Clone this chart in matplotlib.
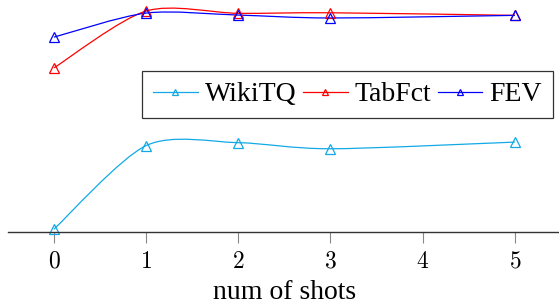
import numpy as np
import matplotlib
matplotlib.use('Agg')
import matplotlib.pyplot as plt
from matplotlib.path import Path
from matplotlib.patches import PathPatch
from matplotlib.lines import Line2D

shots = [0, 1, 2, 3, 5]
wikitq = [1.0, 29.8, 30.8, 28.7, 31.0]
tabfct = [56.6, 76.2, 75.4, 75.6, 74.7]
fev = [67.2, 75.5, 74.8, 73.8, 74.7]
tick_vals = [0, 1, 2, 3, 4, 5]

plt.rcParams['mathtext.fontset'] = 'cm'
serif = 'Liberation Serif'


def smooth_path(x, y, t=0.14):
    # tikz-like smooth curve: bezier segments through every point
    p = np.column_stack([x, y]).astype(float)
    n = len(p)
    verts = [p[0]]
    codes = [Path.MOVETO]
    for i in range(n - 1):
        prev = p[i - 1] if i > 0 else p[i]
        nxt = p[i + 2] if i + 2 < n else p[i + 1]
        c1 = p[i] + (p[i + 1] - prev) * t
        c2 = p[i + 1] - (nxt - p[i]) * t
        verts += [c1, c2, p[i + 1]]
        codes += [Path.CURVE4] * 3
    return Path(verts, codes)


fig = plt.figure(figsize=(5.59, 3.04), dpi=100)
ax = fig.add_axes([7.9 / 559, 72 / 304, 553 / 559, 232 / 304])
ax.set_xlim(-0.5, 5.5)
ax.set_ylim(0, 80)

series = [('WikiTQ', wikitq, '#12a9e6'), ('TabFct', tabfct, 'red'), ('FEV', fev, 'blue')]
handles = []
for name, vals, col in series:
    ax.add_patch(PathPatch(smooth_path(shots, vals), fc='none', ec=col, lw=0.9, clip_on=False))
    ax.plot(shots, vals, ls='none', marker='^', ms=7, mfc='none', mec=col, mew=0.9, clip_on=False)
    handles.append(Line2D([], [], color=col, lw=0.9, marker='^', ms=5, mfc='none', mec=col, mew=0.9))

for s in ['top', 'right', 'left']:
    ax.spines[s].set_visible(False)
ax.spines['bottom'].set_color('#333333')
ax.spines['bottom'].set_linewidth(1.0)
ax.set_yticks([])
ax.set_xticks(tick_vals)
ax.set_xticklabels(['$%d$' % v for v in tick_vals], fontsize=17)
ax.tick_params(axis='x', direction='out', length=8, width=0.8, color='#888888', pad=4)
ax.set_xlabel('num of shots', family=serif, fontsize=20, labelpad=5)

leg = fig.legend(handles, [s[0] for s in series], loc='upper left',
                 bbox_to_anchor=(142 / 559, 1 - 70.7 / 304), ncol=3,
                 prop={'family': serif, 'size': 20}, frameon=True, fancybox=False,
                 handlelength=1.6, handletextpad=0.25, columnspacing=0.25,
                 borderpad=0.4, borderaxespad=0)
leg.get_frame().set_edgecolor('black')
leg.get_frame().set_linewidth(0.9)

fig.savefig('out.png', dpi=100)
